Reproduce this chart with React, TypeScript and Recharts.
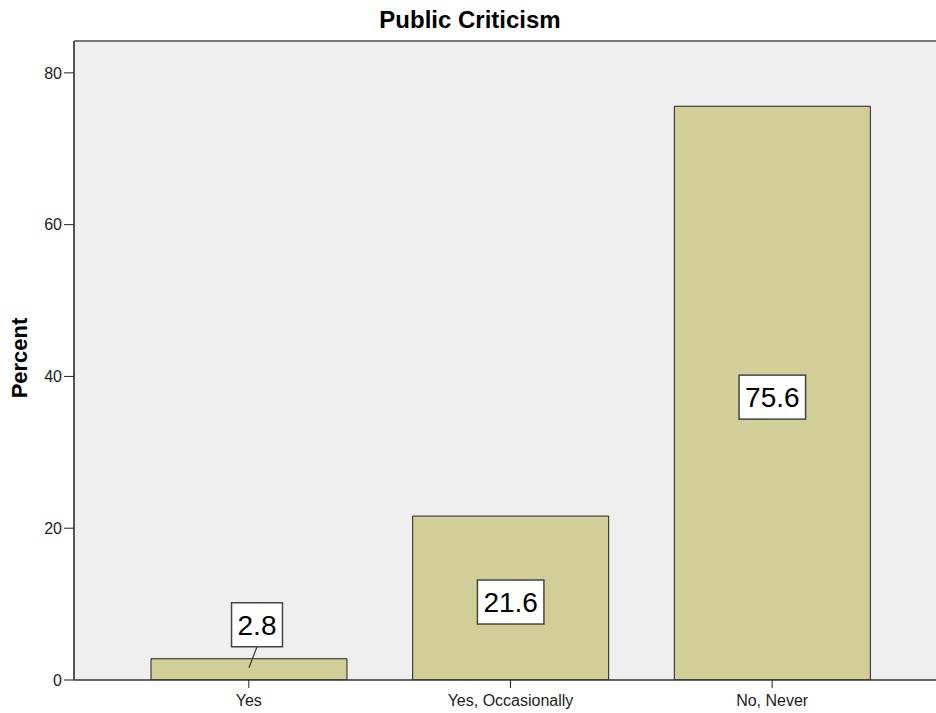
import React from 'react';
import {
  BarChart,
  Bar,
  XAxis,
  YAxis,
  CartesianGrid,
  ReferenceLine,
  LabelList,
} from 'recharts';

// Data
const categories = ['Yes', 'Yes, Occasionally', 'No, Never'];
const percents = [2.8, 21.6, 75.6];
const yTicks = [0, 20, 40, 60, 80];
const yMax = 84.2;

const data = categories.map((name, i) => ({ name, percent: percents[i] }));

const FONT = '"Liberation Sans", Arial, sans-serif';

// rough Arial advance widths, used to size the value boxes
function textWidth(s: string, size: number) {
  let w = 0;
  for (const ch of s) w += ch === '.' ? 0.278 : 0.556;
  return w * size;
}

function ValueBox(props: any) {
  const { x, y, width, height, value } = props;
  const label = Number(value).toFixed(1);
  const fontSize = 28;
  const boxW = textWidth(label, fontSize) + 12;
  const boxH = 44;
  const cx = x + width / 2;

  if (height > boxH + 10) {
    const cy = y + height / 2 + 4;
    return (
      <g>
        <rect x={cx - boxW / 2} y={cy - boxH / 2} width={boxW} height={boxH} fill="#fff" stroke="#444" strokeWidth={1.5} />
        <text x={cx} y={cy + 10} textAnchor="middle" fontSize={fontSize} fontFamily={FONT} fill="#000">
          {label}
        </text>
      </g>
    );
  }

  // small bar: box sits above with a leader line
  const bx = cx + 8;
  const bottom = y - 12;
  const cy = bottom - boxH / 2;
  return (
    <g>
      <line x1={bx} y1={bottom} x2={cx} y2={y + 9} stroke="#333" strokeWidth={1.2} />
      <rect x={bx - boxW / 2} y={bottom - boxH} width={boxW} height={boxH} fill="#fff" stroke="#444" strokeWidth={1.5} />
      <text x={bx} y={cy + 10} textAnchor="middle" fontSize={fontSize} fontFamily={FONT} fill="#000">
        {label}
      </text>
    </g>
  );
}

export default function App() {
  return (
    <div
      style={{
        position: 'absolute',
        left: 0,
        top: 0,
        width: 936,
        height: 713,
        overflow: 'hidden',
        background: '#fff',
        fontFamily: FONT,
      }}
    >
      <div
        style={{
          position: 'absolute',
          left: 470,
          top: 6,
          transform: 'translateX(-50%)',
          fontSize: 24,
          fontWeight: 'bold',
          whiteSpace: 'nowrap',
          color: '#000',
        }}
      >
        Public Criticism
      </div>
      <div
        style={{
          position: 'absolute',
          left: 20,
          top: 358,
          transform: 'translate(-50%, -50%) rotate(-90deg)',
          fontSize: 22,
          fontWeight: 'bold',
          whiteSpace: 'nowrap',
          color: '#000',
        }}
      >
        Percent
      </div>
      <BarChart
        width={947}
        height={713}
        data={data}
        margin={{ top: 41, right: 0, left: 0, bottom: 0 }}
        barSize={196}
      >
        <CartesianGrid fill="#efefef" horizontal={false} vertical={false} />
        <XAxis
          dataKey="name"
          height={33}
          padding={{ left: 44, right: 44 }}
          tickSize={8}
          tickMargin={7}
          axisLine={{ stroke: '#333', strokeWidth: 1.5 }}
          tickLine={{ stroke: '#222' }}
          tick={{ fontSize: 16, fill: '#222', fontFamily: FONT }}
        />
        <YAxis
          width={74}
          domain={[0, yMax]}
          ticks={yTicks}
          tickSize={10}
          allowDataOverflow
          axisLine={{ stroke: '#555', strokeWidth: 2 }}
          tickLine={{ stroke: '#222' }}
          tick={{ fontSize: 16, fill: '#222', fontFamily: FONT }}
        />
        <ReferenceLine y={yMax} stroke="#777" strokeWidth={2} />
        <Bar dataKey="percent" fill="#d2ce98" stroke="#222" strokeWidth={1} isAnimationActive={false}>
          <LabelList dataKey="percent" content={<ValueBox />} />
        </Bar>
      </BarChart>
    </div>
  );
}
